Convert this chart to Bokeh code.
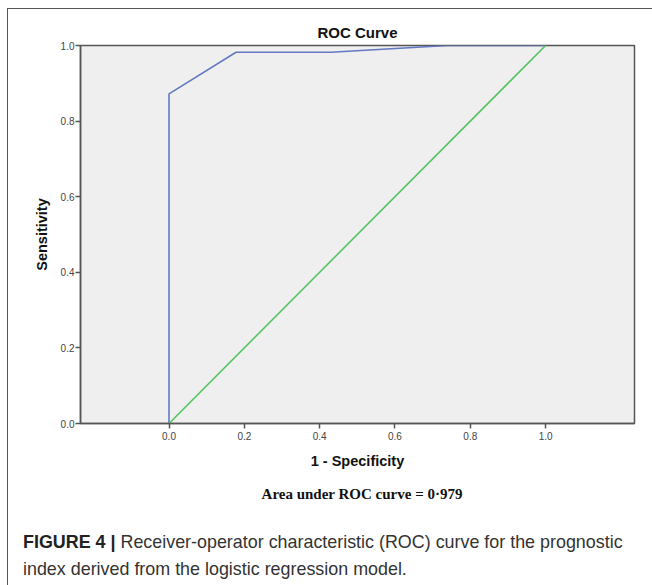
from bokeh.plotting import figure
from bokeh.models import FixedTicker, Range1d, Div
from bokeh.layouts import column
from bokeh.embed import file_html
from bokeh.resources import INLINE

# ---- data ----
fpr = [0.0, 0.0, 0.178, 0.43, 0.74, 1.0]
tpr = [0.0, 0.872, 0.982, 0.982, 1.0, 1.0]
ref_x = [0.0, 1.0]
ref_y = [0.0, 1.0]
ticks = [0.0, 0.2, 0.4, 0.6, 0.8, 1.0]
tick_labels = ["0.0", "0.2", "0.4", "0.6", "0.8", "1.0"]
title_text = "ROC Curve"
xlabel = "1 - Specificity"
ylabel = "Sensitivity"
auc_text = "Area under ROC curve = 0·979"
cap_bold = "FIGURE 4 |"
cap_line1 = "Receiver-operator characteristic (ROC) curve for the prognostic"
cap_line2 = "index derived from the logistic regression model."

FONT = "Liberation Sans"

p = figure(width=636, height=470, output_backend="svg", toolbar_location=None,
           x_range=Range1d(-0.235, 1.236), y_range=Range1d(0, 1),
           min_border_left=72, min_border_right=10, min_border_top=36,
           min_border_bottom=56)
p.title.text = title_text
p.title.align = "center"
p.title.text_font = FONT
p.title.text_font_size = "15px"
p.title.text_font_style = "bold"
p.title.text_color = "#111111"
p.title.standoff = 9

p.background_fill_color = "#EFEFEF"
p.border_fill_color = "white"
p.outline_line_color = "#555555"
p.outline_line_width = 1.5
p.grid.visible = False

for ax in (p.xaxis[0], p.yaxis[0]):
    ax.ticker = FixedTicker(ticks=ticks)
    ax.major_label_overrides = {t: l for t, l in zip(ticks, tick_labels)}
    ax.minor_tick_line_color = None
    ax.major_tick_in = 0
    ax.major_tick_out = 5
    ax.axis_line_color = "#555555"
    ax.axis_line_width = 1.5
    ax.major_tick_line_color = "#555555"
    ax.major_tick_line_width = 1.5
    ax.major_label_text_font = FONT
    ax.major_label_text_font_size = "10px"
    ax.major_label_text_color = "#444444"
    ax.axis_label_text_font = FONT
    ax.axis_label_text_font_size = "14.5px"
    ax.axis_label_text_font_style = "bold"
    ax.axis_label_text_color = "#111111"
p.yaxis[0].major_label_standoff = 1
p.xaxis[0].major_label_standoff = 3
p.xaxis[0].axis_label = xlabel
p.yaxis[0].axis_label = ylabel
p.xaxis[0].axis_label_standoff = 10
p.yaxis[0].axis_label_standoff = 8

p.line(fpr, tpr, line_color="#6379C2", line_width=1.6)
p.line(ref_x, ref_y, line_color="#55C462", line_width=1.6)

auc = Div(
    text=auc_text, width=636, height=35,
    styles={"font-family": "Liberation Serif", "font-size": "15px",
            "font-weight": "bold", "line-height": "20px", "color": "#111111",
            "text-align": "center", "padding-left": "62px",
            "white-space": "nowrap"})

caption = Div(
    text=f"<b style='color:#222222'>{cap_bold}</b> {cap_line1}<br>{cap_line2}",
    width=630, height=56,
    styles={"font-family": FONT, "font-size": "17.9px", "line-height": "27px",
            "color": "#333333", "padding-left": "10px", "white-space": "nowrap"})

layout = column(p, auc, caption, spacing=0,
                styles={"margin-left": "7px", "margin-top": "8px",
                        "border-left": "1.5px solid #555555",
                        "border-top": "1.5px solid #555555"})

open("out.html", "w").write(file_html(layout, INLINE))
